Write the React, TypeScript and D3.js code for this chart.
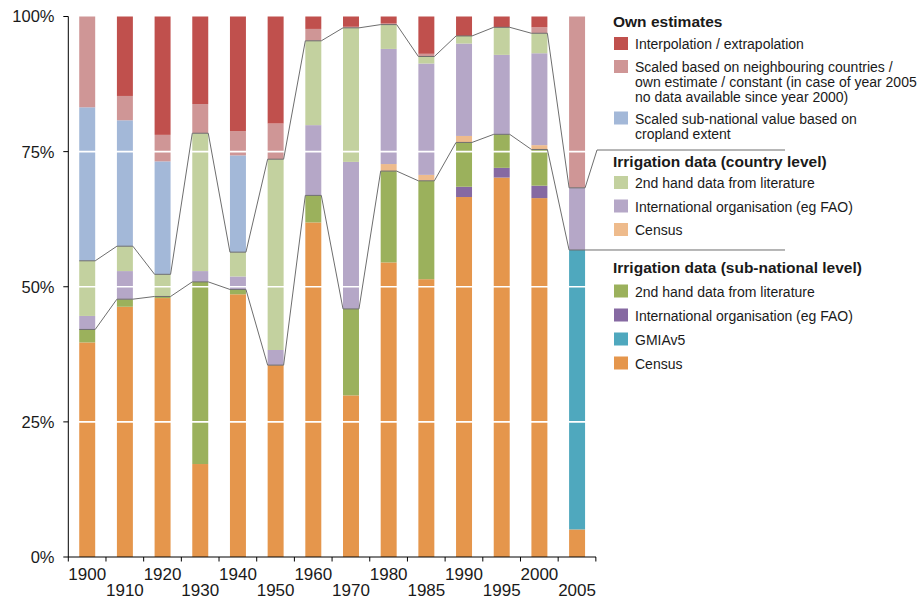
import React from "react";
import * as d3 from "d3";

const years = ["1900","1910","1920","1930","1940","1950","1960","1970","1980","1985","1990","1995","2000","2005"];

// Irrigation data (sub-national level)
const subCensus = [39.7,46.3,47.9,17.2,48.6,35.5,61.9,29.9,54.5,51.4,66.6,70.2,66.4,5.1];
const subGmia = [0,0,0,0,0,0,0,0,0,0,0,0,0,51.7];
const subIntl = [0,0,0,0,0,0,0,0,0,0,1.9,1.8,2.3,0];
const sub2nd = [2.4,1.4,0.3,33.7,0.9,0,5.0,16.0,16.9,18.2,8.2,6.2,6.7,0];
// Irrigation data (country level)
const ctyCensus = [0,0,0,0,0,0,0,0,1.3,1.1,1.2,0,0.8,0];
const ctyIntl = [2.5,5.2,0,2.0,2.4,2.8,13.0,27.2,21.3,20.6,17.1,14.7,17.0,11.5];
const cty2nd = [10.2,4.6,4.1,25.5,4.5,35.3,15.6,24.8,4.5,1.3,1.4,5.1,3.7,0];
// Own estimates
const ownScaledSub = [28.4,23.3,20.9,0,17.9,0,0,0,0,0,0,0,0,0];
const ownScaledNb = [16.8,4.5,4.9,5.4,4.5,6.6,2.2,0.2,0.2,0.5,0,0,1.1,31.7];
const ownInterp = [0,14.7,21.9,16.2,21.2,19.8,2.3,1.9,1.3,6.9,3.6,2.0,2.0,0];

const yTicks = [0, 25, 50, 75, 100];
const yTickLabels = ["0%", "25%", "50%", "75%", "100%"];

const seriesKeys = ["subCensus","subGmia","subIntl","sub2nd","ctyCensus","ctyIntl","cty2nd","ownScaledSub","ownScaledNb","ownInterp"];
const seriesValues: Record<string, number[]> = { subCensus, subGmia, subIntl, sub2nd, ctyCensus, ctyIntl, cty2nd, ownScaledSub, ownScaledNb, ownInterp };
const colors: Record<string, string> = {
  subCensus: "#E5964C",
  subGmia: "#4FA8BE",
  subIntl: "#8669A2",
  sub2nd: "#9BB15C",
  ctyCensus: "#EEBB8C",
  ctyIntl: "#B5A7C7",
  cty2nd: "#C3D19F",
  ownScaledSub: "#A3B8D8",
  ownScaledNb: "#CF9696",
  ownInterp: "#C0504D",
};

const legendGroups = [
  { title: "Own estimates", items: [
    { key: "ownInterp", lines: ["Interpolation / extrapolation"] },
    { key: "ownScaledNb", lines: ["Scaled based on neighbouring countries /", "own estimate / constant (in case of year 2005", "no data available since year 2000)"] },
    { key: "ownScaledSub", lines: ["Scaled sub-national value based on", "cropland extent"] },
  ]},
  { title: "Irrigation data (country level)", items: [
    { key: "cty2nd", lines: ["2nd hand data from literature"] },
    { key: "ctyIntl", lines: ["International organisation (eg FAO)"] },
    { key: "ctyCensus", lines: ["Census"] },
  ]},
  { title: "Irrigation data (sub-national level)", items: [
    { key: "sub2nd", lines: ["2nd hand data from literature"] },
    { key: "subIntl", lines: ["International organisation (eg FAO)"] },
    { key: "subGmia", lines: ["GMIAv5"] },
    { key: "subCensus", lines: ["Census"] },
  ]},
];

const W = 919, H = 599;
const FONT = "'Liberation Sans', Arial, sans-serif";

export default function App() {
  const x0 = 68.3, x1 = 596;
  const x = d3.scaleBand<string>().domain(years).range([x0, x1]).paddingInner(0.576).paddingOuter(0.29);
  const y = d3.scaleLinear().domain([0, 100]).range([557, 16.5]);
  const step = x.step();

  const table = years.map((yr, i) => {
    const row: any = { year: yr };
    seriesKeys.forEach(k => (row[k] = seriesValues[k][i]));
    return row;
  });
  const stacked = d3.stack<any>().keys(seriesKeys)(table);

  const subTop = stacked[3].map(d => d[1]);
  const ctyTop = stacked[6].map(d => d[1]);

  const linePts = (vals: number[]) => {
    const pts: [number, number][] = [];
    vals.forEach((v, i) => {
      const xl = x(years[i])!;
      pts.push([xl, y(v)]);
      pts.push([xl + x.bandwidth(), y(v)]);
    });
    return pts;
  };
  const lineGen = d3.line();
  const upperPts = linePts(ctyTop);
  upperPts.push([597, 150], [785, 150]);
  const lowerPts = linePts(subTop);
  lowerPts.push([785, y(subTop[subTop.length - 1])]);

  // legend layout
  const legendX = 613;
  const swX = 614;
  const textX = 635;
  const legendTitleY = [27, 167, 273];
  const itemTops = [[37, 60, 111.5], [176, 199.5, 223], [284.5, 308.5, 332.5, 356.5]];

  return (
    <svg width={W} height={H} style={{ position: "absolute", left: 0, top: 0, background: "#fff" }} fontFamily={FONT}>
      {/* bars */}
      {stacked.map(s => (
        <g key={s.key} fill={colors[s.key]}>
          {s.map((d, i) => d[1] - d[0] > 0 ? (
            <rect key={i} x={x(years[i])} width={x.bandwidth()} y={y(d[1])} height={y(d[0]) - y(d[1])} />
          ) : null)}
        </g>
      ))}
      {/* white gridlines across bars */}
      {yTicks.filter(t => t > 0 && t < 100).map(t => (
        <line key={t} x1={x0 + 1} x2={x1} y1={y(t)} y2={y(t)} stroke="#fff" strokeWidth={1.6} />
      ))}
      {/* connecting lines */}
      <path d={lineGen(upperPts)!} fill="none" stroke="#6e6e6e" strokeWidth={1} />
      <path d={lineGen(lowerPts)!} fill="none" stroke="#6e6e6e" strokeWidth={1} />
      {/* y axis */}
      <line x1={x0} x2={x0} y1={y(100)} y2={y(0)} stroke="#000" strokeWidth={1} />
      {yTicks.map((t, i) => (
        <g key={t}>
          <line x1={x0 - 5} x2={x0} y1={y(t)} y2={y(t)} stroke="#000" />
          <text x={54.5} y={y(t)} dy="0.36em" textAnchor="end" fontSize={16.5} fill="#1a1a1a">{yTickLabels[i]}</text>
        </g>
      ))}
      {/* x axis */}
      <line x1={x0} x2={x1} y1={y(0)} y2={y(0)} stroke="#000" />
      {d3.range(years.length + 1).map(k => (
        <line key={k} x1={x0 + k * step} x2={x0 + k * step} y1={y(0)} y2={y(0) + 4.5} stroke="#000" />
      ))}
      {years.map((yr, i) => (
        <text key={yr} x={x(yr)! + x.bandwidth() / 2} y={i % 2 === 0 ? 580 : 596} textAnchor="middle" fontSize={17} fill="#1a1a1a">{yr}</text>
      ))}
      {/* legend */}
      {legendGroups.map((g, gi) => (
        <g key={g.title}>
          <text x={legendX} y={legendTitleY[gi]} fontSize={15.5} fontWeight="bold" fill="#1a1a1a">{g.title}</text>
          {g.items.map((it, ii) => {
            const top = itemTops[gi][ii];
            return (
              <g key={it.key}>
                <rect x={swX} y={top} width={14} height={13} fill={colors[it.key]} />
                {it.lines.map((ln, li) => (
                  <text key={li} x={textX} y={top + 12 + li * 15} fontSize={14} fill="#1a1a1a">{ln}</text>
                ))}
              </g>
            );
          })}
        </g>
      ))}
    </svg>
  );
}
